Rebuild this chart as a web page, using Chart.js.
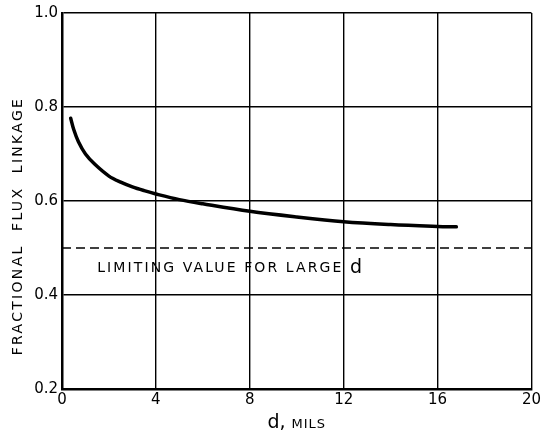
<!DOCTYPE html>
<html>
<head>
<meta charset="utf-8">
<script src="https://cdn.jsdelivr.net/npm/chart.js@4/dist/chart.umd.min.js"></script>
<style>
  html, body { margin: 0; padding: 0; background: #fff; }
  #c { display: block; }
</style>
</head>
<body>
<canvas id="c" width="543" height="435"></canvas>
<script>
// Data
const dValues     = [0.37, 0.5, 0.7, 1.0, 1.4, 2.0, 2.5, 3.0, 3.5, 4.0, 5.0, 6.0, 8.0, 10.0, 12.0, 14.0, 16.0, 16.8];
const fluxLinkage = [0.776, 0.752, 0.726, 0.700, 0.678, 0.653, 0.640, 0.630, 0.622, 0.615, 0.603, 0.594, 0.578, 0.566, 0.556, 0.550, 0.546, 0.545];
const limitX      = [0, 20];
const limitY      = [0.5, 0.5];
const xTicks      = [0, 4, 8, 12, 16, 20];
const yTicks      = [0.2, 0.4, 0.6, 0.8, 1.0];
const xTitleMain  = "d,";
const xTitleUnit  = "MILS";
const yTitle      = "FRACTIONAL  FLUX  LINKAGE";
const noteText    = "LIMITING VALUE FOR LARGE ";
const noteVar     = "d";

const FONT = '"DejaVu Sans", "Liberation Sans", sans-serif';

const textPlugin = {
  id: 'texts',
  afterDraw(chart) {
    const ctx = chart.ctx;
    const xs = chart.scales.x, ys = chart.scales.y;
    const area = chart.chartArea;
    ctx.save();
    ctx.fillStyle = '#000';
    // annotation
    ctx.font = '14px ' + FONT;
    ctx.letterSpacing = '2.1px';
    ctx.textBaseline = 'middle';
    ctx.textAlign = 'left';
    const nx = xs.getPixelForValue(1.5), ny = ys.getPixelForValue(0.456);
    ctx.fillText(noteText, nx, ny);
    const w = ctx.measureText(noteText).width;
    ctx.font = '19px ' + FONT;
    ctx.letterSpacing = '0px';
    ctx.fillText(noteVar, nx + w, ny - 1);
    // x title
    ctx.textBaseline = 'alphabetic';
    ctx.font = '19px ' + FONT;
    const w1 = ctx.measureText(xTitleMain + ' ').width;
    ctx.font = '13px ' + FONT;
    ctx.letterSpacing = '1px';
    const w2 = ctx.measureText(xTitleUnit).width;
    const cx = (area.left + area.right) / 2;
    const startX = cx - (w1 + w2) / 2;
    ctx.font = '19px ' + FONT;
    ctx.letterSpacing = '0px';
    ctx.fillText(xTitleMain, startX, 428);
    ctx.font = '13px ' + FONT;
    ctx.letterSpacing = '1px';
    ctx.fillText(xTitleUnit, startX + w1, 428);
    // y title
    ctx.translate(18, 226);
    ctx.rotate(-Math.PI / 2);
    ctx.textAlign = 'center';
    ctx.textBaseline = 'middle';
    ctx.font = '14px ' + FONT;
    ctx.letterSpacing = '2.3px';
    ctx.fillText(yTitle, 0, 0);
    ctx.restore();
  }
};

new Chart(document.getElementById('c'), {
  type: 'scatter',
  data: {
    datasets: [
      {
        data: dValues.map((d, i) => ({ x: d, y: fluxLinkage[i] })),
        showLine: true,
        borderColor: '#000',
        borderWidth: 3.5,
        borderCapStyle: 'round',
        borderJoinStyle: 'round',
        pointRadius: 0,
        tension: 0.35,
        fill: false
      },
      {
        data: limitX.map((x, i) => ({ x: x, y: limitY[i] })),
        showLine: true,
        borderColor: '#000',
        borderWidth: 1.6,
        borderDash: [9, 5],
        pointRadius: 0,
        fill: false
      }
    ]
  },
  options: {
    responsive: false,
    animation: false,
    devicePixelRatio: 1,
    layout: { padding: { left: 0, right: 8, top: 11, bottom: 0 } },
    plugins: { legend: { display: false }, tooltip: { enabled: false } },
    scales: {
      x: {
        type: 'linear',
        min: 0, max: 20,
        afterBuildTicks(scale) { scale.ticks = xTicks.map(v => ({ value: v })); },
        afterFit(scale) { scale.height = 46; },
        ticks: {
          color: '#000',
          font: { family: FONT, size: 15 },
          padding: 2,
          maxRotation: 0,
          callback: v => String(v)
        },
        grid: { color: '#000', lineWidth: 1.4, drawTicks: false },
        border: { color: '#000', width: 2.5 }
      },
      y: {
        type: 'linear',
        min: 0.2, max: 1.0,
        afterBuildTicks(scale) { scale.ticks = yTicks.map(v => ({ value: v })); },
        afterFit(scale) { scale.width = 62; },
        ticks: {
          color: '#000',
          font: { family: FONT, size: 15 },
          padding: 4,
          callback: v => Number(v).toFixed(1)
        },
        grid: { color: '#000', lineWidth: 1.4, drawTicks: false },
        border: { color: '#000', width: 2.5 }
      }
    }
  },
  plugins: [textPlugin]
});
</script>
</body>
</html>
